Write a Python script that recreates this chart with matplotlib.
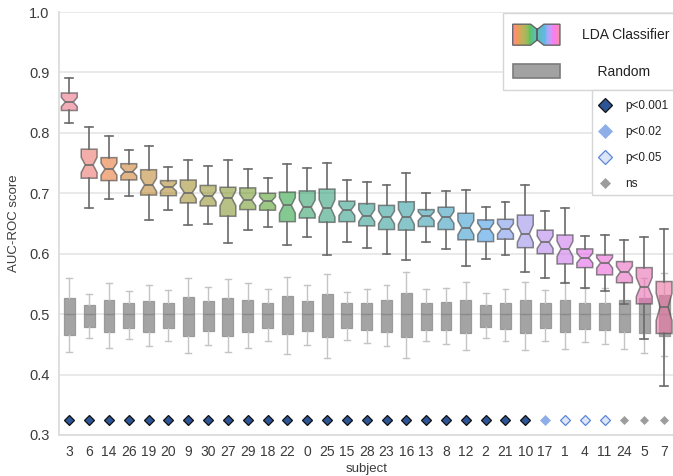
import numpy as np
import matplotlib
matplotlib.use("Agg")
import matplotlib.pyplot as plt
import seaborn as sns
from matplotlib.legend_handler import HandlerBase
from matplotlib.patches import Polygon, Rectangle, Patch
from matplotlib.lines import Line2D

# subjects, in the order shown on the x axis
subjects = [3, 6, 14, 26, 19, 20, 9, 30, 27, 29, 18, 22, 0, 25, 15, 28,
            23, 16, 13, 8, 12, 2, 21, 10, 17, 1, 4, 11, 24, 5, 7]

# LDA classifier AUC-ROC box stats
lda_whislo = [0.816, 0.675, 0.691, 0.695, 0.656, 0.672, 0.647, 0.650, 0.618, 0.639, 0.644,
              0.614, 0.627, 0.598, 0.619, 0.609, 0.600, 0.589, 0.619, 0.607, 0.580,
              0.592, 0.598, 0.570, 0.560, 0.552, 0.544, 0.538, 0.516, 0.459, 0.381]
lda_q1 = [0.837, 0.725, 0.721, 0.722, 0.697, 0.696, 0.684, 0.679, 0.662, 0.673, 0.672,
          0.653, 0.659, 0.652, 0.653, 0.646, 0.640, 0.639, 0.645, 0.640, 0.623,
          0.620, 0.624, 0.610, 0.600, 0.583, 0.577, 0.565, 0.552, 0.517, 0.468]
lda_med = [0.851, 0.747, 0.740, 0.736, 0.714, 0.710, 0.701, 0.695, 0.692, 0.689, 0.687,
           0.680, 0.677, 0.675, 0.672, 0.663, 0.660, 0.661, 0.662, 0.660, 0.643,
           0.641, 0.641, 0.633, 0.619, 0.608, 0.593, 0.585, 0.570, 0.545, 0.512]
lda_q3 = [0.866, 0.773, 0.759, 0.749, 0.739, 0.721, 0.722, 0.713, 0.710, 0.709, 0.700,
          0.702, 0.704, 0.707, 0.687, 0.683, 0.680, 0.686, 0.673, 0.677, 0.667,
          0.656, 0.657, 0.664, 0.639, 0.631, 0.608, 0.598, 0.587, 0.577, 0.554]
lda_whishi = [0.891, 0.810, 0.794, 0.772, 0.778, 0.744, 0.755, 0.745, 0.755, 0.740, 0.725,
              0.749, 0.742, 0.750, 0.722, 0.719, 0.713, 0.733, 0.700, 0.703, 0.706,
              0.678, 0.685, 0.713, 0.670, 0.676, 0.630, 0.631, 0.623, 0.628, 0.641]

# Random (shuffled labels) AUC-ROC box stats
rand_whislo = [0.437, 0.460, 0.444, 0.459, 0.447, 0.456, 0.435, 0.449, 0.437, 0.444, 0.456,
               0.434, 0.449, 0.427, 0.457, 0.452, 0.447, 0.427, 0.456, 0.451, 0.441,
               0.460, 0.455, 0.441, 0.456, 0.442, 0.454, 0.451, 0.443, 0.436, 0.430]
rand_q1 = [0.465, 0.479, 0.471, 0.477, 0.470, 0.477, 0.464, 0.472, 0.464, 0.470, 0.477,
           0.467, 0.472, 0.463, 0.477, 0.474, 0.471, 0.462, 0.474, 0.474, 0.469,
           0.478, 0.475, 0.469, 0.477, 0.470, 0.475, 0.474, 0.470, 0.468, 0.464]
rand_med = [0.500] * 31
rand_q3 = [0.527, 0.515, 0.524, 0.518, 0.522, 0.519, 0.528, 0.522, 0.526, 0.524, 0.519,
           0.530, 0.522, 0.533, 0.518, 0.519, 0.524, 0.535, 0.519, 0.520, 0.524,
           0.515, 0.519, 0.524, 0.519, 0.524, 0.519, 0.519, 0.524, 0.527, 0.532]
rand_whishi = [0.560, 0.534, 0.551, 0.538, 0.548, 0.540, 0.559, 0.545, 0.558, 0.551, 0.541,
               0.562, 0.548, 0.567, 0.537, 0.542, 0.548, 0.570, 0.541, 0.544, 0.553,
               0.535, 0.541, 0.553, 0.540, 0.553, 0.543, 0.543, 0.553, 0.559, 0.568]

# significance of LDA vs random per subject
signif = ['p<0.001'] * 24 + ['p<0.02'] + ['p<0.05'] * 3 + ['ns'] * 3
signif_levels = ['p<0.001', 'p<0.02', 'p<0.05', 'ns']
marker_y = 0.325
n_folds = 36  # only used for notch size

plt.rcParams['font.family'] = ['Liberation Sans', 'DejaVu Sans']
text_col = '#3c3c3c'
W, H = 673, 476

marker_style = {
    'p<0.001': dict(markerfacecolor='#2d5596', markeredgecolor='#111111', markeredgewidth=0.9, markersize=5.4),
    'p<0.02': dict(markerfacecolor='#8eaee8', markeredgecolor='#8eaee8', markeredgewidth=0.5, markersize=5.4),
    'p<0.05': dict(markerfacecolor='#dde6f7', markeredgecolor='#5b86d8', markeredgewidth=0.9, markersize=5.2),
    'ns': dict(markerfacecolor='#9c9c9c', markeredgecolor='#9c9c9c', markeredgewidth=0.5, markersize=4.0),
}

box_alpha = 0.62
palette = [sns.desaturate(c, 0.85) for c in sns.husl_palette(len(subjects))]
legend_cols = [tuple(1 - 0.8 * (1 - v) for v in c) for c in sns.husl_palette(len(subjects))]


def make_stats(lo, q1, med, q3, hi):
    stats = []
    for i in range(len(med)):
        ci = 1.57 * (q3[i] - q1[i]) / np.sqrt(n_folds)
        stats.append(dict(whislo=lo[i], q1=q1[i], med=med[i], q3=q3[i], whishi=hi[i],
                          cilo=med[i] - ci, cihi=med[i] + ci, fliers=[]))
    return stats


class LDAHandler(HandlerBase):
    # notched box filled with the palette gradient
    def create_artists(self, legend, orig_handle, xdescent, ydescent, width, height, fontsize, trans):
        x0, w = -xdescent, width
        h = 21 * 0.72
        y0 = -ydescent + (height - h) / 2
        verts = [(x0, y0), (x0 + 0.38 * w, y0), (x0 + 0.52 * w, y0 + 0.25 * h), (x0 + 0.66 * w, y0),
                 (x0 + w, y0), (x0 + w, y0 + h), (x0 + 0.66 * w, y0 + h), (x0 + 0.52 * w, y0 + 0.75 * h),
                 (x0 + 0.38 * w, y0 + h), (x0, y0 + h)]
        outline = Polygon(verts, closed=True, facecolor='none', edgecolor='#666666', lw=1.0, transform=trans)
        artists = []
        n = len(legend_cols)
        for i, c in enumerate(legend_cols):
            r = Rectangle((x0 + i * w / n, y0), w / n * 1.6, h, facecolor=c, edgecolor='none', transform=trans)
            r.set_clip_path(outline)
            artists.append(r)
        med = Line2D([x0 + 0.52 * w] * 2, [y0 + 0.25 * h, y0 + 0.75 * h], color='#555555', lw=1.2, transform=trans)
        return artists + [outline, med]


class RandomHandler(HandlerBase):
    def create_artists(self, legend, orig_handle, xdescent, ydescent, width, height, fontsize, trans):
        x0, w = -xdescent, width
        h = 14 * 0.72
        y0 = -ydescent + (height - h) / 2
        r = Rectangle((x0, y0), w, h, facecolor='#a2a2a2', edgecolor='#7c7c7c', lw=1.2, transform=trans)
        return [r]


fig = plt.figure(figsize=(W / 100, H / 100), dpi=100)
ax = fig.add_axes([59.4 / W, 41 / H, 614.6 / W, 423 / H])
pos = np.arange(len(subjects))

ax.set_axisbelow(True)
ax.yaxis.grid(True, color='#e3e3e3', lw=1.1)

# random boxes underneath
ax.bxp(make_stats(rand_whislo, rand_q1, rand_med, rand_q3, rand_whishi), positions=pos, widths=0.55,
       patch_artist=True, showfliers=False, capwidths=0.3,
       boxprops=dict(facecolor='#a4a4a4', edgecolor='#9a9a9a', linewidth=0.9),
       whiskerprops=dict(color='#c4c4c4', linewidth=1.0),
       capprops=dict(color='#c4c4c4', linewidth=1.0),
       medianprops=dict(color='#8a8a8a', linewidth=1.0), zorder=2)

bp = ax.bxp(make_stats(lda_whislo, lda_q1, lda_med, lda_q3, lda_whishi), positions=pos, widths=0.8,
            shownotches=True, patch_artist=True, showfliers=False, capwidths=0.4,
            boxprops=dict(edgecolor='#454545', linewidth=1.1),
            whiskerprops=dict(color='#6a6a6a', linewidth=1.2),
            capprops=dict(color='#6a6a6a', linewidth=1.2),
            medianprops=dict(color='#6a6a6a', linewidth=1.2), zorder=3)
for patch, c in zip(bp['boxes'], palette):
    patch.set_facecolor(c)
    patch.set_alpha(box_alpha)

for x, s in zip(pos, signif):
    ax.plot([x], [marker_y], 'D', linestyle='none', zorder=4, **marker_style[s])

ax.set_xlim(-0.5, 30.5)
ax.set_ylim(0.3, 1.0)
ax.set_xticks(pos)
ax.set_xticklabels([str(s) for s in subjects])
ax.set_yticks(np.arange(0.3, 1.01, 0.1))
ax.set_yticklabels(['%.1f' % v for v in np.arange(0.3, 1.01, 0.1)])
ax.tick_params(axis='both', length=0, pad=7, colors=text_col)
ax.tick_params(axis='x', labelsize=10)
ax.tick_params(axis='y', labelsize=10.5)
ax.set_xlabel('subject', fontsize=9.5, color=text_col, labelpad=3)
ax.set_ylabel('AUC-ROC score', fontsize=9.5, color=text_col, labelpad=7)

for side in ['top', 'right']:
    ax.spines[side].set_visible(False)
for side in ['left', 'bottom']:
    ax.spines[side].set_color('#dcdcdc')
    ax.spines[side].set_linewidth(1.3)

# legend frames drawn by hand (both run off the right edge)
for (fx0, ftop, fbot) in [(503, 12.7, 90), (591.7, 90, 195)]:
    fig.add_artist(Rectangle((fx0 / W, 1 - fbot / H), (W + 10 - fx0) / W, (fbot - ftop) / H,
                             transform=fig.transFigure, facecolor='white', edgecolor='#d6d6d6',
                             lw=1.0, zorder=5))

h_lda = Patch()
h_rand = Patch()
leg1 = fig.legend([h_lda, h_rand], ['LDA Classifier', '    Random'],
                  handler_map={h_lda: LDAHandler(), h_rand: RandomHandler()},
                  loc='upper left', bbox_to_anchor=(503 / W, 1 - 16.5 / H), borderaxespad=0,
                  fontsize=10, handlelength=3.4, handleheight=1.5, handletextpad=1.6,
                  labelspacing=1.39, borderpad=0.7, frameon=False)
leg1.set_zorder(6)
for t in leg1.get_texts():
    t.set_color('#222222')

sig_handles = [Line2D([], [], marker='D', linestyle='none',
                      **{k: (v * 1.3 if k == 'markersize' else v) for k, v in marker_style[s].items()})
               for s in signif_levels]
leg2 = fig.legend(sig_handles, signif_levels, loc='upper left',
                  bbox_to_anchor=(591.2 / W, 1 - 91.7 / H), borderaxespad=0,
                  fontsize=8.5, handlelength=1.0, handletextpad=1.15, labelspacing=1.186,
                  borderpad=0.7, frameon=False)
leg2.set_zorder(6)
for t in leg2.get_texts():
    t.set_color('#222222')

fig.savefig('out.png', dpi=100)
